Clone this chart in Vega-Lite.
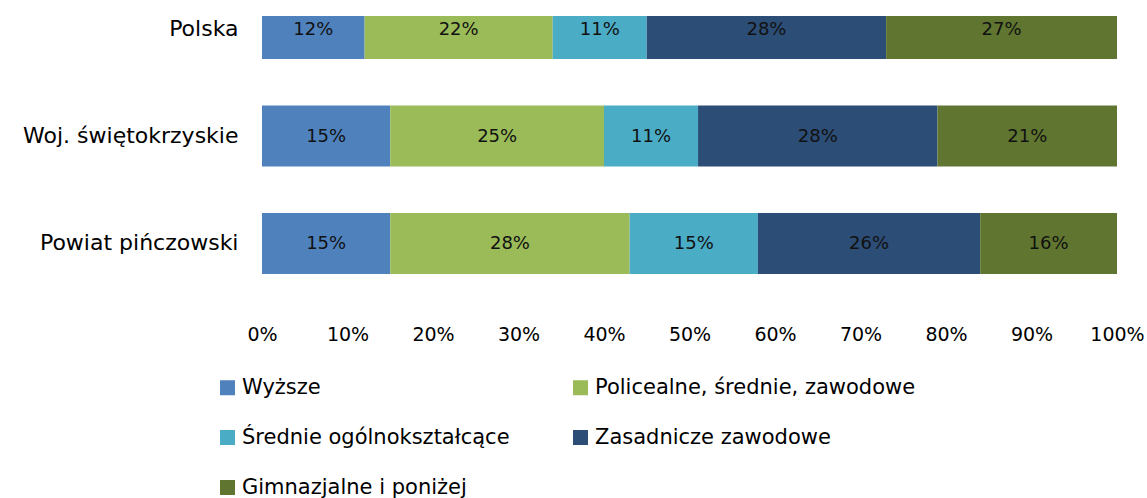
{
  "$schema": "https://vega.github.io/schema/vega-lite/v6.json",
  "width": 855,
  "height": 282,
  "autosize": {"type": "none"},
  "padding": {"left": 262, "top": 16, "right": 30, "bottom": 200},
  "background": "white",
  "config": {
    "view": {"stroke": null},
    "font": "DejaVu Sans",
    "axis": {"labelFont": "DejaVu Sans", "labelColor": "#000000"},
    "legend": {"labelFont": "DejaVu Sans", "labelColor": "#000000"}
  },
  "data": {
    "values": [
      {"region": "Polska", "level": "Wyższe", "ord": 1, "value": 12},
      {"region": "Polska", "level": "Policealne, średnie, zawodowe", "ord": 2, "value": 22},
      {"region": "Polska", "level": "Średnie ogólnokształcące", "ord": 3, "value": 11},
      {"region": "Polska", "level": "Zasadnicze zawodowe", "ord": 4, "value": 28},
      {"region": "Polska", "level": "Gimnazjalne i poniżej", "ord": 5, "value": 27},
      {"region": "Woj. świętokrzyskie", "level": "Wyższe", "ord": 1, "value": 15},
      {"region": "Woj. świętokrzyskie", "level": "Policealne, średnie, zawodowe", "ord": 2, "value": 25},
      {"region": "Woj. świętokrzyskie", "level": "Średnie ogólnokształcące", "ord": 3, "value": 11},
      {"region": "Woj. świętokrzyskie", "level": "Zasadnicze zawodowe", "ord": 4, "value": 28},
      {"region": "Woj. świętokrzyskie", "level": "Gimnazjalne i poniżej", "ord": 5, "value": 21},
      {"region": "Powiat pińczowski", "level": "Wyższe", "ord": 1, "value": 15},
      {"region": "Powiat pińczowski", "level": "Policealne, średnie, zawodowe", "ord": 2, "value": 28},
      {"region": "Powiat pińczowski", "level": "Średnie ogólnokształcące", "ord": 3, "value": 15},
      {"region": "Powiat pińczowski", "level": "Zasadnicze zawodowe", "ord": 4, "value": 26},
      {"region": "Powiat pińczowski", "level": "Gimnazjalne i poniżej", "ord": 5, "value": 16}
    ]
  },
  "transform": [
    {"stack": "value", "groupby": ["region"], "sort": [{"field": "ord", "order": "ascending"}], "as": ["v0", "v1"]},
    {"calculate": "(datum.v0 + datum.v1) / 2", "as": "mid"},
    {"calculate": "datum.value + '%'", "as": "lab"}
  ],
  "encoding": {
    "y": {
      "field": "region",
      "type": "nominal",
      "sort": ["Polska", "Woj. świętokrzyskie", "Powiat pińczowski"],
      "scale": {"type": "band", "range": [-41, 281], "paddingInner": 0.4326, "paddingOuter": 0.214},
      "axis": {"title": null, "domain": false, "ticks": false, "labelFontSize": 22, "labelPadding": 24, "labelLimit": 400}
    }
  },
  "layer": [
    {
      "mark": {"type": "bar", "clip": true},
      "encoding": {
        "x": {
          "field": "v0",
          "type": "quantitative",
          "scale": {"domain": [0, 100]},
          "axis": {
            "title": null, "grid": false, "domain": false, "ticks": false,
            "values": [0, 10, 20, 30, 40, 50, 60, 70, 80, 90, 100],
            "labelExpr": "datum.value + '%'",
            "labelFontSize": 19, "labelPadding": 27, "labelFlush": false
          }
        },
        "x2": {"field": "v1"},
        "color": {
          "field": "level",
          "type": "nominal",
          "scale": {
            "domain": ["Wyższe", "Policealne, średnie, zawodowe", "Średnie ogólnokształcące", "Zasadnicze zawodowe", "Gimnazjalne i poniżej"],
            "range": ["#4F81BD", "#9BBB59", "#4BACC6", "#2C4D75", "#5F7530"]
          },
          "legend": {
            "title": null,
            "orient": "none",
            "direction": "horizontal",
            "legendX": -45,
            "legendY": 361,
            "columns": 2,
            "symbolType": "square",
            "symbolSize": 225,
            "symbolStrokeWidth": 0,
            "symbolOffset": 0,
            "labelOffset": 4,
            "labelFontSize": 21,
            "labelLimit": 500,
            "rowPadding": 28,
            "columnPadding": 60
          }
        }
      }
    },
    {
      "mark": {"type": "text", "fontSize": 18, "color": "#111111", "dy": 1},
      "encoding": {
        "x": {"field": "mid", "type": "quantitative"},
        "text": {"field": "lab", "type": "nominal"}
      }
    },
    {
      "mark": {"type": "rule", "color": "#D9D9D9", "strokeWidth": 1},
      "encoding": {"x": {"datum": 0}}
    }
  ]
}
